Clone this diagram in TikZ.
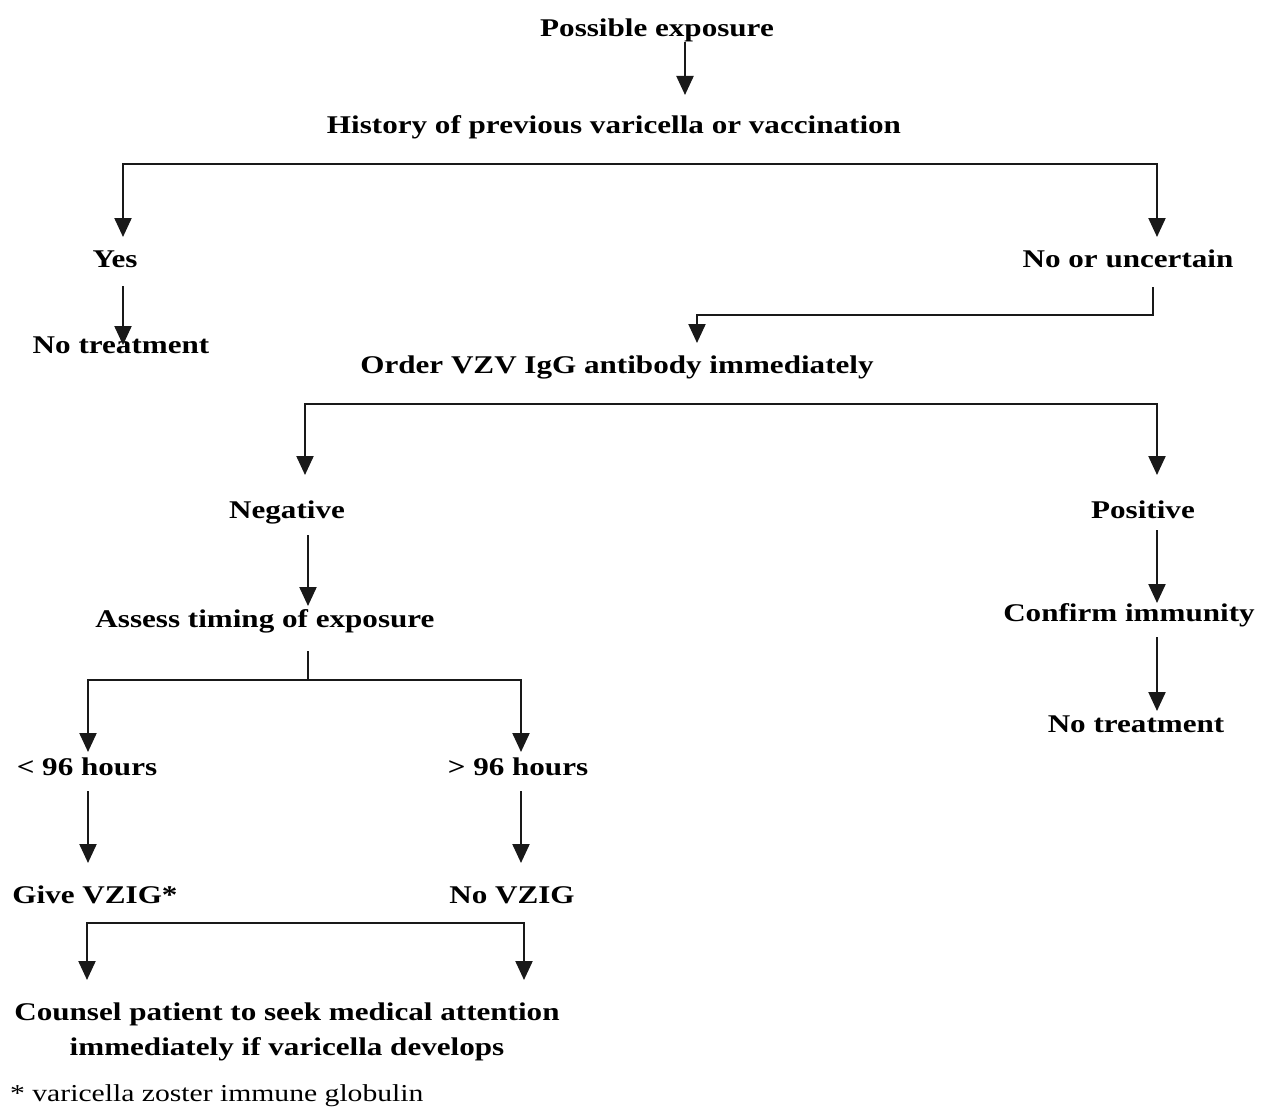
\documentclass[tikz,border=0pt]{standalone}
\usepackage{fontspec}
\setmainfont{Liberation Serif}[FakeStretch=1.22]
\usetikzlibrary{arrows.meta}
\begin{document}
\begin{tikzpicture}[x=1pt,y=-1pt,
  lbl/.style={font=\bfseries\fontsize{25.5}{35}\selectfont, inner sep=0pt, anchor=base},
  note/.style={font=\fontsize{24.3}{30}\selectfont, inner sep=0pt, anchor=base west},
  conn/.style={line width=2.2pt, color=black!90, line join=miter},
  arr/.style={conn, -{Triangle[length=19pt,width=17pt]}},
  arrtwo/.style={conn, {Triangle[length=19pt,width=17pt]}-{Triangle[length=19pt,width=17pt]}}]
\useasboundingbox (0,0) rectangle (1267,1108);
\fill[white] (0,0) rectangle (1267,1108);

% nodes
\node[lbl] (pe)   at (657,37)  {Possible exposure};
\node[lbl] (hist) at (614,133) {History of previous varicella or vaccination};
\node[lbl] (yes)  at (115,267) {Yes};
\node[lbl] (nou)  at (1128,267) {No or uncertain};
\node[lbl] (nt1)  at (121,353) {No treatment};
\node[lbl] (ord)  at (617,373) {Order VZV IgG antibody immediately};
\node[lbl] (neg)  at (287,518) {Negative};
\node[lbl] (pos)  at (1143,518) {Positive};
\node[lbl] (ass)  at (265,627) {Assess timing of exposure};
\node[lbl] (conf) at (1129,621) {Confirm immunity};
\node[lbl] (nt2)  at (1136,732) {No treatment};
\node[lbl] (lt)   at (87,775)  {< 96 hours};
\node[lbl] (gt)   at (518,775) {> 96 hours};
\node[lbl] (give) at (95,903)  {Give VZIG*};
\node[lbl] (novz) at (512,903) {No VZIG};
\node[lbl, anchor=center, align=center] (cns) at (287,1032)
  {Counsel patient to seek medical attention\\immediately if varicella develops};
\node[note] (foot) at (10,1101) {* varicella zoster immune globulin};

% connector points
\coordinate (p1a) at (685,42);   \coordinate (p1b) at (685,95);
\coordinate (h1) at (123,237);   \coordinate (h2) at (123,164);
\coordinate (h3) at (1157,164);  \coordinate (h4) at (1157,237);
\coordinate (y1) at (123,286);   \coordinate (y2) at (123,345);
\coordinate (n1) at (1153,287);  \coordinate (n2) at (1153,315);
\coordinate (n3) at (697,315);   \coordinate (n4) at (697,343);
\coordinate (o1) at (305,475);   \coordinate (o2) at (305,404);
\coordinate (o3) at (1157,404);  \coordinate (o4) at (1157,475);
\coordinate (g1) at (308,535);   \coordinate (g2) at (308,606);
\coordinate (q1) at (1157,530);  \coordinate (q2) at (1157,603);
\coordinate (c1) at (1157,637);  \coordinate (c2) at (1157,711);
\coordinate (a1) at (308,651);   \coordinate (a2) at (308,680);
\coordinate (t1) at (88,752);    \coordinate (t2) at (88,680);
\coordinate (t3) at (521,680);   \coordinate (t4) at (521,752);
\coordinate (l1) at (88,791);    \coordinate (l2) at (88,863);
\coordinate (r1) at (521,791);   \coordinate (r2) at (521,863);
\coordinate (b1) at (87,980);    \coordinate (b2) at (87,923);
\coordinate (b3) at (524,923);   \coordinate (b4) at (524,980);

% connectors
\draw[arr] (p1a) -- (p1b);
\draw[arrtwo] (h1) -- (h2) -- (h3) -- (h4);
\draw[arr] (y1) -- (y2);
\draw[arr] (n1) -- (n2) -- (n3) -- (n4);
\draw[arrtwo] (o1) -- (o2) -- (o3) -- (o4);
\draw[arr] (g1) -- (g2);
\draw[arr] (q1) -- (q2);
\draw[arr] (c1) -- (c2);
\draw[conn] (a1) -- (a2);
\draw[arrtwo] (t1) -- (t2) -- (t3) -- (t4);
\draw[arr] (l1) -- (l2);
\draw[arr] (r1) -- (r2);
\draw[arrtwo] (b1) -- (b2) -- (b3) -- (b4);
\end{tikzpicture}
\end{document}
